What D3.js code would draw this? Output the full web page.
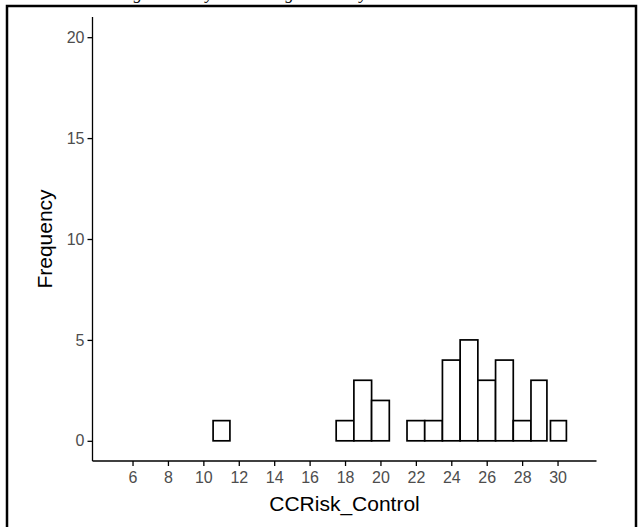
<!DOCTYPE html>
<html>
<head>
<meta charset="utf-8">
<script src="https://cdn.jsdelivr.net/npm/d3@7"></script>
<style>
  body { margin: 0; background: #fff; }
  svg { display: block; }
  .tick text { font-family: "Liberation Sans", Arial, sans-serif; fill: #4d4d4d; }
  .axis-title { font-family: "Liberation Sans", Arial, sans-serif; fill: #000; }
</style>
</head>
<body>
<script>
// histogram bins
var binCenter = [11, 18, 19, 20, 22, 23, 24, 25, 26, 27, 28, 29, 30];
var binLo     = [10.55, 17.5, 18.5, 19.5, 21.5, 22.5, 23.5, 24.5, 25.5, 26.5, 27.5, 28.5, 29.6];
var binHi     = [11.5, 18.5, 19.5, 20.5, 22.5, 23.5, 24.5, 25.5, 26.5, 27.5, 28.5, 29.4, 30.5];
var counts    = [1, 1, 3, 2, 1, 1, 4, 5, 3, 4, 1, 3, 1];
var xTicks = [6, 8, 10, 12, 14, 16, 18, 20, 22, 24, 26, 28, 30];
var yTicks = [0, 5, 10, 15, 20];

var w = 640;
var h = 527;
var margin = {
  top: 17,
  bottom: 66,
  left: 92.5,
  right: 43.5
};
var width = w - margin.left - margin.right;
var height = h - margin.top - margin.bottom;

var svg = d3.select('body').append('svg')
            .attr('width', w)
            .attr('height', h)

// caption from the page above, cut off at the top (only descenders show)
svg.append('text')
    .attr('x', 97)
    .attr('y', -1.5)
    .style('font-family', '"Liberation Serif", "Times New Roman", serif')
    .style('font-style', 'italic')
    .style('font-size', '17px')
    .text('Histogram Analysis Showing Normality')

// frame
svg.append('rect')
    .attr('x', 7)
    .attr('y', 6)
    .attr('width', 629)
    .attr('height', 540)
    .attr('fill', 'none')
    .attr('stroke', '#000')
    .attr('stroke-width', 2.5)

var chart = svg.append('g')
              .attr('transform', 'translate(' + margin.left + ',' + margin.top + ')')

var x = d3.scaleLinear()
          .domain([3.74, 32.2])
          .range([0, width])
var y = d3.scaleLinear()
          .domain([-1, 21])
          .range([height, 0])

var xAxis = d3.axisBottom(x)
              .tickValues(xTicks)
              .tickSize(5)
              .tickPadding(6)
var yAxis = d3.axisLeft(y)
              .tickValues(yTicks)
              .tickSize(5)
              .tickPadding(3)

var gx = chart.append('g')
    .attr('transform', 'translate(0,' + height + ')')
    .call(xAxis)
var gy = chart.append('g')
    .call(yAxis)

gx.select('.domain').attr('d', 'M0,0H' + width).attr('stroke-width', 1.3)
gy.select('.domain').attr('d', 'M0,0V' + height).attr('stroke-width', 1.3)
chart.selectAll('.tick line').attr('stroke-width', 1.3)
chart.selectAll('.tick text').style('font-size', '16px')

// bars
chart.selectAll('.bar')
    .data(counts)
    .enter()
      .append('rect')
      .classed('bar', true)
      .attr('x', function(d, i){ return x(binLo[i]) })
      .attr('y', function(d){ return y(d) })
      .attr('width', function(d, i){ return x(binHi[i]) - x(binLo[i]) })
      .attr('height', function(d){ return y(0) - y(d) })
      .attr('fill', '#fff')
      .attr('stroke', '#000')
      .attr('stroke-width', 1.7)

// axis titles
chart.append('text')
    .classed('axis-title', true)
    .attr('x', width / 2)
    .attr('y', height + 50)
    .attr('text-anchor', 'middle')
    .style('font-size', '21px')
    .text('CCRisk_Control')

chart.append('text')
    .classed('axis-title', true)
    .attr('transform', 'translate(' + (-41) + ',' + (height / 2) + ') rotate(-90)')
    .attr('text-anchor', 'middle')
    .style('font-size', '21px')
    .text('Frequency')
</script>
</body>
</html>
